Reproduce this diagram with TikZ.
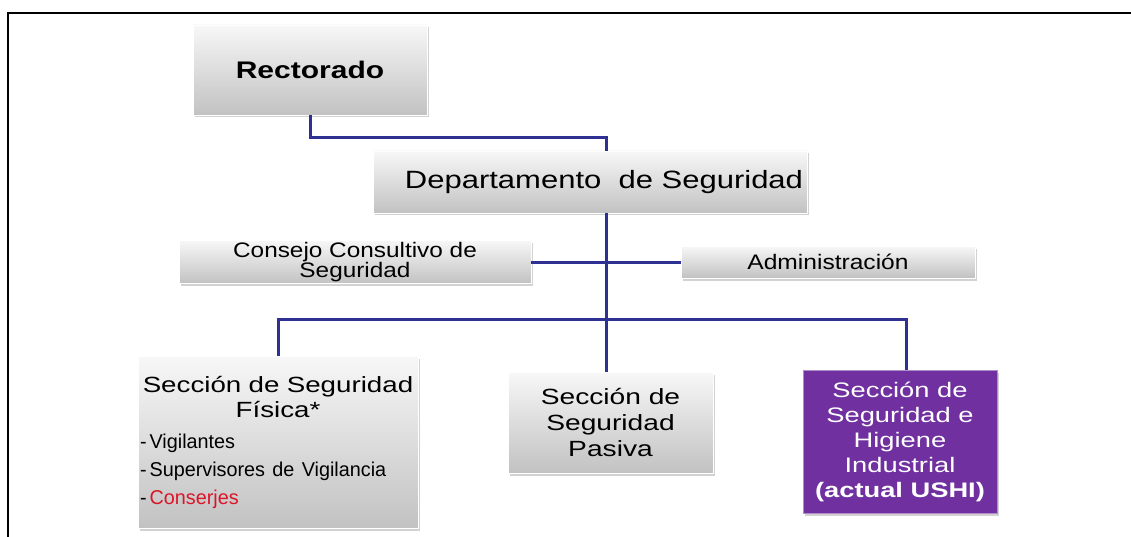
\documentclass[tikz,border=0pt]{standalone}
\usepackage{fontspec}
\setmainfont{Liberation Sans}
\usetikzlibrary{shadows}
\definecolor{conn}{RGB}{46,49,146}
\definecolor{purp}{RGB}{112,48,160}
\definecolor{consred}{RGB}{220,20,40}
\newcommand\lstline[1]{\makebox[276pt][l]{\fontsize{20}{28}\selectfont\addfontfeature{FakeStretch=0.99}-\kern3pt#1}}
\tikzset{
  greybox/.style={rectangle, inner sep=2pt, top color=white!97!black, bottom color=black!24,
    draw=white, line width=0.6pt, align=center, text=black,
    drop shadow={opacity=0.35, shadow xshift=1.5pt, shadow yshift=-2.5pt}},
  purpbox/.style={rectangle, inner sep=2pt, fill=purp, draw=purp!55!white, line width=1pt,
    align=center, text=white,
    drop shadow={opacity=0.35, shadow xshift=1.5pt, shadow yshift=-2.5pt}},
  link/.style={draw=conn, line width=3pt},
}
\begin{document}
\begin{tikzpicture}[x=1pt,y=-1pt]
\useasboundingbox (0,0) rectangle (1131,537);
\fill[white] (0,0) rectangle (1131,537);
\draw[line width=2pt, black] (1131,13) -- (8,13) -- (8,537);

\coordinate (c1) at (310,138);
\coordinate (c2) at (606,138);
\coordinate (bus) at (606,319);
\coordinate (busL) at (278,319);
\coordinate (busR) at (906,319);

\node[greybox, minimum width=234pt, minimum height=90pt,
  font=\fontsize{24}{28}\selectfont\bfseries\addfontfeature{FakeStretch=1.25}] (rect) at (310,70)
  {Rectorado};
\node[greybox, minimum width=434pt, minimum height=62pt,
  font=\fontsize{25}{30}\selectfont\addfontfeature{FakeStretch=1.24}] (dept) at (590,182)
  {\hspace*{28pt}Departamento\ \ de Seguridad};
\node[greybox, minimum width=352pt, minimum height=39pt,
  font=\fontsize{21}{20}\selectfont\addfontfeature{FakeStretch=1.16}] (cons) at (355,262)
  {Consejo Consultivo de\\Seguridad};
\node[greybox, minimum width=294pt, minimum height=32pt,
  font=\fontsize{21}{22}\selectfont\addfontfeature{FakeStretch=1.17}] (adm) at (828,262)
  {Administración};
\node[greybox, minimum width=280pt, minimum height=172pt, text width=276pt, inner sep=1pt,
  font=\fontsize{22}{25.5}\selectfont\addfontfeature{FakeStretch=1.26}] (fis) at (278,442)
  {Sección de Seguridad\\ Física*\\[5pt]
   \lstline{Vigilantes}\\[2.5pt]
   \lstline{Supervisores de Vigilancia}\\[2.5pt]
   \lstline{\textcolor{consred}{Conserjes}}};
\node[greybox, minimum width=205pt, minimum height=101pt,
  font=\fontsize{22}{26}\selectfont\addfontfeature{FakeStretch=1.28}] (pas) at (610.5,422.5)
  {Sección de\\ Seguridad\\ Pasiva};
\node[purpbox, minimum width=194pt, minimum height=143pt,
  font=\fontsize{21}{25}\selectfont\addfontfeature{FakeStretch=1.3}] (hig) at (900,441.5)
  {Sección de\\ Seguridad e\\ Higiene\\ Industrial\\ \bfseries (actual USHI)};

\draw[link] (rect.south -| c1) -- (c1) -- (c2) -- (dept.north -| c2);
\draw[link] (dept.south -| bus) -- (pas.north -| bus);
\draw[link] (cons.east) -- (adm.west);
\draw[link] (fis.north -| busL) -- (busL) -- (busR) -- (hig.north -| busR);
\end{tikzpicture}
\end{document}
